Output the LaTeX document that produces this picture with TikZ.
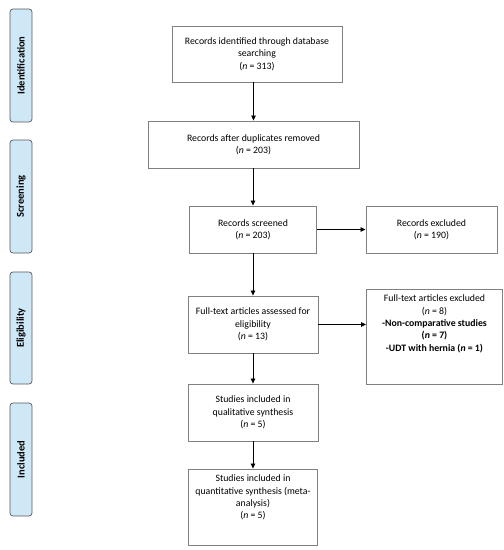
\documentclass[tikz,border=0pt]{standalone}
\usepackage{fontspec}
\setmainfont{Carlito}
\usetikzlibrary{arrows.meta,positioning}

\definecolor{phaseblue}{HTML}{CFE8F8}
\tikzset{
  flowbox/.style={draw=black!50, line width=0.9pt, align=center, inner sep=2pt,
    font=\fontsize{9.8}{12.3}\selectfont},
  phasebar/.style={draw=black!65, fill=phaseblue, line width=0.7pt, rounded corners=3pt,
    rotate=90, minimum height=22pt, inner sep=0pt, font=\fontsize{10.5}{11}\selectfont\bfseries},
  flowarrow/.style={-{Triangle[length=5pt,width=4.5pt]}, line width=0.8pt}
}

\begin{document}
\begin{tikzpicture}[x=1pt, y=-1pt]
	\useasboundingbox (0,0) rectangle (504,550);

	% phase bars
	\node[phasebar, minimum width=113pt] (P1) at (21,65.5) {Identification};
	\node[phasebar, minimum width=113pt] (P2) at (21,196.5) {Screening};
	\node[phasebar, minimum width=112pt] (P3) at (21,328) {Eligibility};
	\node[phasebar, minimum width=113pt] (P4) at (21,459.5) {Included};

	% boxes
	\node[flowbox, minimum width=170pt, minimum height=56pt] (B1) at (257,54)
		{Records identified through database\\searching\\(\textit{n} = 313)};
	\node[flowbox, minimum width=211pt, minimum height=47pt] (B2) at (253.5,144.5)
		{Records after duplicates removed\\(\textit{n} = 203)};
	\node[flowbox, minimum width=127pt, minimum height=47pt] (B3) at (253,229.5)
		{Records screened\\(\textit{n} = 203)};
	\node[flowbox, minimum width=131pt, minimum height=47pt] (B4) at (431.5,229.5)
		{Records excluded\\(\textit{n} = 190)};
	\node[flowbox, minimum width=130pt, minimum height=57pt] (B5) at (253,324.5)
		{Full-text articles assessed for\\eligibility\\(\textit{n} = 13)};
	\node[flowbox, inner sep=0pt] (B6) at (434.5,336.5)
		{\parbox[t][95pt][t]{136pt}{\centering\vspace{6pt}Full-text articles excluded\\(\textit{n} = 8)\\
		\textbf{-Non-comparative studies}\\\textbf{(\textit{n} = 7)}\\\textbf{-UDT with hernia (\textit{n} = 1)}}};
	\node[flowbox, minimum width=130pt, minimum height=57pt] (B7) at (253,412.5)
		{Studies included in\\qualitative synthesis\\(\textit{n} = 5)};
	\node[flowbox, inner sep=0pt] (B8) at (253,507)
		{\parbox[t][76pt][t]{129pt}{\centering\vspace{6pt}Studies included in\\quantitative synthesis (meta-\\analysis)\\(\textit{n} = 5)}};

	% arrows
	\draw[flowarrow] (B2.north |- B1.south) -- (B2.north);
	\draw[flowarrow] (B3.north |- B2.south) -- (B3.north);
	\draw[flowarrow] (B3.east) -- (B4.west);
	\draw[flowarrow] (B3.south) -- (B5.north);
	\draw[flowarrow] (B5.east) -- (B5.east -| B6.west);
	\draw[flowarrow] (B5.south) -- (B7.north);
	\draw[flowarrow] (B7.south) -- (B8.north);

\end{tikzpicture}
\end{document}
